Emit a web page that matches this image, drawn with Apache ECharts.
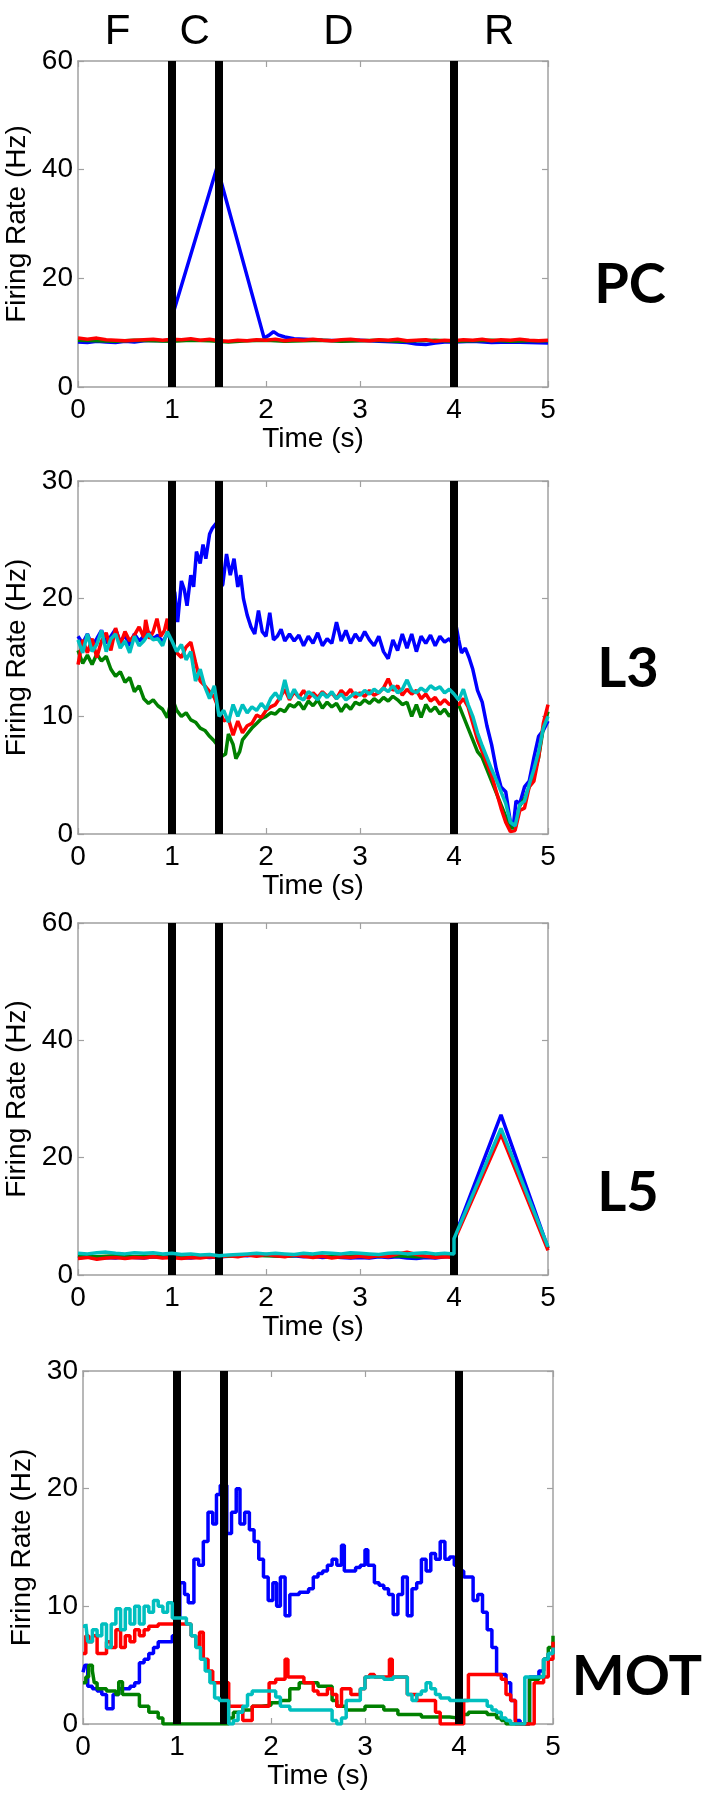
<!DOCTYPE html>
<html>
<head>
<meta charset="utf-8">
<script src="https://cdn.jsdelivr.net/npm/echarts@6/dist/echarts.min.js"></script>
<style>
html,body{margin:0;padding:0;background:#fff;}
#c{width:709px;height:1799px;}
</style>
</head>
<body>
<div id="c"></div>
<script>
// ---------- data (time in s, rate in Hz) ----------
const xTicks = [0, 1, 2, 3, 4, 5];
const phaseLabels = ['F', 'C', 'D', 'R'];
const phaseLabelTimes = [0.42, 1.24, 2.77, 4.48];
const eventTimes = [1, 1.5, 4];
const panelNames = ['PC', 'L3', 'L5', 'MOT'];
const panelYMax = [60, 30, 60, 30];

const pcBlue = [[0,8.3],[0.1,8.2],[0.2,8.4],[0.3,8.3],[0.4,8.2],[0.5,8.4],[0.6,8.3],[0.7,8.5],[0.8,8.6],[0.9,8.5],[1.0,8.6],[1.0,12.9],[1.48,40.5],[1.98,9.0],[2.03,9.5],[2.08,10.2],[2.13,9.6],[2.2,9.2],[2.3,8.9],[2.4,8.8],[2.5,8.7],[2.6,8.6],[2.8,8.5],[3.0,8.6],[3.2,8.4],[3.4,8.3],[3.5,8.2],[3.6,7.9],[3.7,7.8],[3.8,8.1],[3.9,8.3],[4.0,8.3],[4.2,8.4],[4.4,8.2],[4.6,8.3],[4.8,8.2],[5.0,8.1]];
const pcGreen = [[0,8.6],[0.2,8.5],[0.4,8.4],[0.6,8.6],[0.8,8.5],[1.0,8.4],[1.2,8.6],[1.4,8.5],[1.6,8.3],[1.8,8.5],[2.0,8.6],[2.2,8.4],[2.4,8.5],[2.6,8.6],[2.8,8.4],[3.0,8.5],[3.2,8.6],[3.4,8.4],[3.6,8.5],[3.8,8.6],[4.0,8.4],[4.2,8.5],[4.4,8.6],[4.6,8.4],[4.8,8.5],[5.0,8.5]];
const pcRed = [[0,9.0],[0.1,8.8],[0.2,9.0],[0.3,8.7],[0.4,8.6],[0.5,8.5],[0.6,8.6],[0.7,8.7],[0.8,8.8],[0.9,8.6],[1.0,8.8],[1.1,8.7],[1.2,8.9],[1.3,8.6],[1.4,8.8],[1.5,8.5],[1.6,8.4],[1.7,8.6],[1.8,8.5],[1.9,8.7],[2.0,8.6],[2.1,8.8],[2.2,8.5],[2.3,8.7],[2.4,8.6],[2.5,8.8],[2.6,8.6],[2.7,8.5],[2.8,8.7],[2.9,8.8],[3.0,8.6],[3.1,8.5],[3.2,8.7],[3.3,8.6],[3.4,8.8],[3.5,8.5],[3.6,8.6],[3.7,8.7],[3.8,8.4],[3.9,8.6],[4.0,8.5],[4.1,8.7],[4.2,8.6],[4.3,8.8],[4.4,8.5],[4.5,8.7],[4.6,8.6],[4.7,8.8],[4.8,8.6],[4.9,8.5],[5.0,8.6]];

const l3Blue = [[0,16.8],[0.05,16.2],[0.1,17.0],[0.15,16.0],[0.2,16.6],[0.25,17.3],[0.3,16.2],[0.35,16.8],[0.4,17.4],[0.45,16.3],[0.5,16.9],[0.55,16.0],[0.6,17.0],[0.65,16.4],[0.7,16.8],[0.75,17.2],[0.8,16.6],[0.85,16.9],[0.9,16.3],[0.95,17.0],[1.0,16.5],[1.0,21.2],[1.03,20.5],[1.06,18.0],[1.1,21.5],[1.13,20.8],[1.16,19.4],[1.2,22.0],[1.23,21.0],[1.26,24.0],[1.3,23.0],[1.33,24.6],[1.36,23.4],[1.4,25.5],[1.43,26.0],[1.47,26.4],[1.5,25.8],[1.5,20.8],[1.54,21.2],[1.58,23.8],[1.62,22.0],[1.66,23.4],[1.7,21.0],[1.73,22.0],[1.76,20.0],[1.8,18.6],[1.84,17.6],[1.88,17.0],[1.92,19.0],[1.96,17.2],[2.0,16.8],[2.04,18.8],[2.08,16.5],[2.12,16.8],[2.16,17.4],[2.2,16.4],[2.25,17.0],[2.3,16.4],[2.35,16.9],[2.4,16.0],[2.45,16.8],[2.5,16.2],[2.55,17.1],[2.6,16.0],[2.65,16.6],[2.7,16.2],[2.75,18.0],[2.8,16.4],[2.85,17.3],[2.9,16.2],[2.95,17.0],[3.0,16.4],[3.05,17.2],[3.1,16.5],[3.15,16.0],[3.2,16.8],[3.25,15.5],[3.3,14.9],[3.35,16.5],[3.4,15.6],[3.45,17.0],[3.5,15.8],[3.55,17.0],[3.6,15.5],[3.65,16.8],[3.7,16.2],[3.75,16.9],[3.8,16.0],[3.85,16.8],[3.9,16.3],[3.95,16.6],[4.0,16.0],[4.02,17.8],[4.05,16.5],[4.08,15.4],[4.12,15.8],[4.16,15.0],[4.2,14.0],[4.25,12.2],[4.3,11.2],[4.35,9.2],[4.4,7.6],[4.45,5.5],[4.5,4.0],[4.55,3.6],[4.6,1.0],[4.63,0.6],[4.66,2.8],[4.7,2.6],[4.75,4.0],[4.8,4.5],[4.85,6.5],[4.9,8.3],[4.95,8.8],[5.0,9.6]];
const l3Green = [[0,15.6],[0.05,14.5],[0.1,15.2],[0.15,14.4],[0.2,15.3],[0.25,14.7],[0.3,15.1],[0.35,14.0],[0.4,13.4],[0.45,13.8],[0.5,12.9],[0.55,13.3],[0.6,12.1],[0.65,12.6],[0.7,11.5],[0.75,11.1],[0.8,11.4],[0.85,10.9],[0.9,10.6],[0.95,9.9],[1.0,11.6],[1.05,10.5],[1.1,10.0],[1.15,10.3],[1.2,9.7],[1.25,9.5],[1.3,9.0],[1.35,8.8],[1.4,8.3],[1.45,7.9],[1.5,7.4],[1.53,6.6],[1.57,6.8],[1.6,8.5],[1.65,7.6],[1.68,6.4],[1.72,7.0],[1.75,8.0],[1.8,8.5],[1.85,9.0],[1.9,9.4],[1.95,9.8],[2.0,10.0],[2.05,10.3],[2.1,10.2],[2.15,10.6],[2.2,10.4],[2.25,11.0],[2.3,10.8],[2.35,11.2],[2.4,10.6],[2.45,11.3],[2.5,10.9],[2.55,11.4],[2.6,10.7],[2.65,11.2],[2.7,10.8],[2.75,11.1],[2.8,10.4],[2.85,11.0],[2.9,10.6],[2.95,11.2],[3.0,11.0],[3.05,11.4],[3.1,11.1],[3.15,11.5],[3.2,11.2],[3.25,11.6],[3.3,11.3],[3.35,11.7],[3.4,11.4],[3.45,11.0],[3.5,11.2],[3.55,10.0],[3.6,11.0],[3.65,9.9],[3.7,11.0],[3.75,10.4],[3.8,10.8],[3.85,10.2],[3.9,10.6],[3.95,10.0],[4.0,10.5],[4.05,11.0],[4.1,10.0],[4.15,9.0],[4.2,8.0],[4.25,7.0],[4.3,6.5],[4.35,5.5],[4.4,4.5],[4.45,3.5],[4.5,2.5],[4.55,1.5],[4.6,0.5],[4.65,0.5],[4.7,2.4],[4.75,3.0],[4.8,4.0],[4.85,5.0],[4.9,6.5],[4.95,9.0],[5.0,10.4]];
const l3Red = [[0,14.4],[0.05,16.5],[0.1,15.4],[0.15,16.6],[0.2,15.0],[0.25,16.4],[0.3,17.1],[0.35,15.6],[0.4,17.5],[0.45,16.1],[0.5,17.2],[0.55,16.4],[0.6,16.9],[0.65,17.6],[0.7,16.7],[0.72,18.2],[0.76,16.6],[0.8,17.2],[0.84,18.3],[0.88,16.8],[0.92,17.3],[0.95,18.3],[0.98,16.4],[1.0,16.2],[1.05,15.4],[1.1,15.0],[1.15,15.9],[1.2,16.3],[1.25,14.6],[1.3,13.0],[1.35,12.6],[1.4,12.1],[1.45,11.6],[1.5,10.6],[1.55,9.6],[1.6,9.8],[1.65,8.4],[1.7,9.6],[1.75,8.6],[1.8,9.2],[1.85,9.4],[1.9,10.1],[1.95,9.9],[2.0,10.5],[2.05,10.8],[2.1,11.0],[2.15,11.6],[2.2,12.3],[2.25,11.4],[2.3,12.1],[2.35,11.6],[2.4,12.2],[2.45,11.5],[2.5,12.0],[2.55,11.6],[2.6,12.1],[2.65,11.7],[2.7,12.0],[2.75,11.5],[2.8,12.2],[2.85,11.8],[2.9,12.3],[2.95,11.6],[3.0,12.0],[3.05,11.7],[3.1,12.2],[3.15,11.8],[3.2,12.0],[3.25,12.4],[3.3,13.2],[3.35,12.2],[3.4,12.6],[3.45,11.8],[3.5,12.3],[3.55,11.9],[3.6,12.2],[3.65,11.5],[3.7,11.9],[3.75,11.3],[3.8,11.6],[3.85,11.0],[3.9,11.4],[3.95,11.0],[4.0,11.2],[4.05,11.0],[4.1,11.5],[4.15,10.8],[4.2,9.4],[4.25,8.0],[4.3,7.0],[4.35,6.0],[4.4,5.0],[4.45,3.6],[4.5,2.2],[4.55,1.0],[4.6,0.2],[4.65,0.3],[4.7,2.0],[4.75,2.2],[4.8,4.0],[4.85,4.5],[4.9,6.5],[4.95,9.4],[5.0,11.0]];
const l3Cyan = [[0,16.5],[0.05,15.4],[0.1,17.0],[0.15,15.5],[0.2,16.1],[0.25,17.3],[0.3,15.5],[0.35,16.6],[0.4,17.0],[0.45,15.8],[0.5,16.4],[0.55,15.4],[0.6,16.8],[0.65,16.0],[0.7,16.4],[0.75,17.0],[0.8,16.5],[0.85,16.6],[0.9,16.0],[0.95,17.2],[1.0,16.4],[1.05,15.5],[1.1,16.1],[1.15,14.8],[1.2,15.5],[1.25,13.0],[1.3,14.0],[1.35,12.5],[1.4,11.5],[1.45,12.6],[1.5,10.0],[1.55,10.5],[1.6,9.5],[1.65,11.0],[1.7,10.0],[1.75,11.0],[1.8,10.3],[1.85,10.8],[1.9,10.5],[1.95,11.1],[2.0,10.6],[2.05,11.5],[2.1,12.0],[2.15,11.4],[2.2,13.1],[2.25,11.5],[2.3,12.3],[2.35,11.6],[2.4,11.4],[2.45,12.1],[2.5,11.8],[2.55,11.4],[2.6,12.0],[2.65,11.6],[2.7,12.1],[2.75,11.5],[2.8,11.9],[2.85,11.4],[2.9,11.7],[2.95,12.0],[3.0,11.8],[3.05,12.2],[3.1,11.9],[3.15,12.3],[3.2,12.0],[3.25,12.4],[3.3,12.1],[3.35,12.6],[3.4,12.0],[3.45,12.3],[3.5,13.1],[3.55,12.2],[3.6,12.0],[3.65,12.4],[3.7,12.1],[3.75,12.6],[3.8,12.3],[3.85,12.5],[3.9,12.0],[3.95,12.3],[4.0,11.9],[4.05,11.4],[4.1,12.3],[4.15,11.0],[4.2,10.0],[4.25,8.6],[4.3,7.5],[4.35,6.5],[4.4,5.5],[4.45,4.6],[4.5,3.6],[4.55,2.6],[4.6,1.0],[4.65,0.7],[4.7,2.5],[4.75,2.8],[4.8,4.2],[4.85,5.5],[4.9,7.0],[4.95,9.0],[5.0,10.0]];

const l5Blue = [[0,2.9],[0.1,3.1],[0.2,2.8],[0.3,3.0],[0.4,2.9],[0.5,3.1],[0.6,3.0],[0.7,2.9],[0.8,3.1],[0.9,3.0],[1.0,3.2],[1.1,3.0],[1.2,2.9],[1.3,3.1],[1.4,3.0],[1.5,3.1],[1.6,3.2],[1.7,3.4],[1.8,3.3],[1.9,3.5],[2.0,3.4],[2.1,3.3],[2.2,3.2],[2.3,3.3],[2.4,3.1],[2.5,3.2],[2.6,3.0],[2.7,3.1],[2.8,3.0],[2.9,2.9],[3.0,3.0],[3.1,2.9],[3.2,3.1],[3.3,3.0],[3.4,3.1],[3.5,2.9],[3.6,2.8],[3.7,3.0],[3.8,2.9],[3.9,3.1],[4.0,3.2],[4.0,6.3],[4.5,27.3],[5.0,4.6]];
const l5Green = [[0,3.2],[0.2,3.1],[0.4,3.3],[0.6,3.1],[0.8,3.2],[1.0,3.0],[1.2,3.1],[1.4,3.3],[1.6,3.2],[1.8,3.4],[2.0,3.3],[2.2,3.2],[2.4,3.4],[2.6,3.2],[2.8,3.1],[3.0,3.3],[3.2,3.2],[3.4,3.3],[3.6,3.1],[3.8,3.2],[4.0,3.2],[4.0,6.0],[4.5,24.5],[5.0,4.5]];
const l5Red = [[0,2.8],[0.1,3.0],[0.2,2.7],[0.3,2.9],[0.4,3.0],[0.5,2.8],[0.6,3.0],[0.7,2.9],[0.8,3.1],[0.9,2.9],[1.0,3.0],[1.1,2.8],[1.2,3.0],[1.3,2.9],[1.4,3.1],[1.5,3.0],[1.6,3.3],[1.7,3.1],[1.8,3.4],[1.9,3.2],[2.0,3.5],[2.1,3.3],[2.2,3.1],[2.3,3.4],[2.4,3.2],[2.5,3.0],[2.6,3.2],[2.7,2.9],[2.8,3.1],[2.9,3.0],[3.0,3.2],[3.1,3.0],[3.2,3.3],[3.3,3.1],[3.4,3.6],[3.5,3.9],[3.6,3.5],[3.7,3.2],[3.8,3.0],[3.9,3.1],[4.0,3.0],[4.0,5.8],[4.5,24.0],[5.0,4.2]];
const l5Cyan = [[0,3.7],[0.1,3.6],[0.2,3.8],[0.3,3.9],[0.4,3.7],[0.5,3.6],[0.6,3.8],[0.7,3.7],[0.8,3.8],[0.9,3.6],[1.0,3.7],[1.1,3.5],[1.2,3.6],[1.3,3.4],[1.4,3.5],[1.5,3.3],[1.6,3.4],[1.7,3.5],[1.8,3.6],[1.9,3.7],[2.0,3.6],[2.1,3.7],[2.2,3.6],[2.3,3.5],[2.4,3.7],[2.5,3.6],[2.6,3.8],[2.7,3.7],[2.8,3.6],[2.9,3.8],[3.0,3.7],[3.1,3.6],[3.2,3.5],[3.3,3.7],[3.4,3.8],[3.5,3.6],[3.6,3.7],[3.7,3.8],[3.8,3.6],[3.9,3.7],[4.0,3.6],[4.0,6.2],[4.5,25.0],[5.0,4.8]];

const motBlue = [[0,4.4],[0.02,5.0],[0.05,3.2],[0.1,3.0],[0.15,2.8],[0.2,2.5],[0.25,1.3],[0.32,2.5],[0.38,3.0],[0.45,3.0],[0.5,3.2],[0.55,3.5],[0.6,5.2],[0.65,5.5],[0.7,6.0],[0.75,6.5],[0.8,7.0],[0.95,7.5],[1.0,9.0],[1.03,12.0],[1.08,11.0],[1.12,10.3],[1.18,14.0],[1.23,13.5],[1.28,15.5],[1.33,18.0],[1.38,17.0],[1.42,19.5],[1.46,20.3],[1.5,20.3],[1.53,16.2],[1.58,18.0],[1.63,20.0],[1.67,17.0],[1.72,18.0],[1.77,16.5],[1.82,15.5],[1.87,14.0],[1.92,12.5],[1.97,10.5],[2.02,12.0],[2.06,10.0],[2.1,12.5],[2.15,9.2],[2.2,11.0],[2.3,11.2],[2.4,11.5],[2.45,12.5],[2.5,12.8],[2.55,13.0],[2.6,13.5],[2.65,14.0],[2.7,13.5],[2.75,15.2],[2.78,13.0],[2.85,13.0],[2.9,13.3],[2.95,13.5],[3.0,14.8],[3.03,13.5],[3.1,12.0],[3.15,11.8],[3.2,11.5],[3.25,11.0],[3.3,9.3],[3.35,11.0],[3.4,12.5],[3.45,9.2],[3.5,11.5],[3.55,12.0],[3.6,14.0],[3.65,13.0],[3.7,14.5],[3.75,14.0],[3.8,15.5],[3.85,14.0],[3.9,14.2],[3.95,13.5],[4.0,13.0],[4.05,12.5],[4.15,10.5],[4.2,11.0],[4.25,9.5],[4.3,8.0],[4.35,6.5],[4.4,4.2],[4.5,3.5],[4.55,2.0],[4.6,0.3],[4.65,0.0],[4.75,4.0],[4.85,4.5],[4.9,5.5],[4.95,6.0],[5.0,6.5]];
const motGreen = [[0,3.5],[0.03,4.0],[0.06,5.0],[0.1,4.5],[0.12,3.5],[0.15,3.0],[0.25,2.8],[0.35,2.5],[0.38,3.6],[0.42,2.5],[0.6,1.5],[0.7,1.0],[0.8,0.5],[0.85,0.0],[1.55,0.5],[1.6,1.0],[1.7,1.2],[1.8,1.5],[1.9,1.6],[2.0,1.8],[2.1,2.0],[2.2,3.0],[2.3,3.5],[2.5,3.2],[2.65,2.0],[2.7,1.5],[2.8,1.2],[3.0,1.5],[3.2,1.2],[3.35,0.8],[3.6,0.6],[3.9,0.5],[4.0,0.8],[4.1,1.0],[4.3,0.8],[4.4,0.5],[4.45,0.3],[4.5,0.0],[4.75,3.8],[4.85,4.0],[4.9,5.5],[4.95,6.5],[5.0,7.5]];
const motRed = [[0,6.0],[0.03,7.5],[0.06,7.0],[0.1,7.5],[0.15,6.0],[0.2,6.0],[0.25,7.0],[0.3,6.5],[0.35,8.0],[0.4,6.5],[0.45,7.5],[0.5,7.0],[0.55,8.0],[0.6,7.5],[0.65,8.0],[0.7,8.3],[0.8,8.5],[1.1,8.5],[1.15,7.5],[1.2,6.6],[1.24,7.8],[1.28,5.5],[1.33,4.5],[1.38,3.5],[1.55,1.5],[1.7,0.3],[1.8,1.5],[1.98,3.5],[2.05,3.8],[2.15,5.5],[2.18,4.0],[2.35,3.5],[2.45,2.8],[2.5,2.5],[2.6,3.0],[2.65,2.5],[2.7,1.5],[2.75,3.0],[2.85,2.5],[2.95,3.0],[3.0,4.0],[3.05,4.2],[3.1,4.0],[3.26,5.5],[3.29,4.0],[3.45,2.5],[3.55,2.0],[3.75,1.0],[3.8,0.0],[4.05,2.0],[4.1,4.2],[4.45,3.8],[4.5,2.5],[4.55,2.0],[4.6,0.0],[4.8,3.5],[4.9,4.0],[4.95,5.5],[5.0,7.0]];
const motCyan = [[0,8.3],[0.03,8.5],[0.05,7.0],[0.1,8.0],[0.15,7.5],[0.2,8.5],[0.25,6.5],[0.3,8.5],[0.35,9.8],[0.4,8.0],[0.45,9.8],[0.5,8.5],[0.55,10.0],[0.6,8.5],[0.65,10.0],[0.7,9.5],[0.75,10.5],[0.8,10.0],[0.85,9.5],[0.9,10.3],[0.95,9.0],[1.1,8.5],[1.15,7.5],[1.2,6.5],[1.25,5.5],[1.3,4.5],[1.35,3.5],[1.4,2.2],[1.45,2.0],[1.55,0.0],[1.6,0.3],[1.65,1.0],[1.7,1.5],[1.75,2.5],[1.8,2.8],[2.05,2.3],[2.1,1.5],[2.2,1.2],[2.65,0.3],[2.7,0.0],[2.75,0.5],[2.8,2.0],[2.95,3.0],[3.0,4.0],[3.2,3.8],[3.3,4.0],[3.45,2.5],[3.5,2.0],[3.55,2.5],[3.6,2.8],[3.65,3.5],[3.7,3.0],[3.75,2.5],[3.8,2.2],[3.9,2.0],[4.3,1.5],[4.35,1.2],[4.4,1.0],[4.45,0.5],[4.5,0.3],[4.55,0.0],[4.7,4.0],[4.9,5.5],[4.95,6.0],[5.0,6.5]];

const panelSeries = [
  [pcBlue, pcGreen, pcRed],
  [l3Blue, l3Green, l3Red, l3Cyan],
  [l5Blue, l5Green, l5Red, l5Cyan],
  [motBlue, motGreen, motRed, motCyan]
];

// ---------- layout / style ----------
const lineColors = ['#0000ff', '#008000', '#ff0000', '#00bfbf'];
const panelStep = [false, false, false, 'end'];
const gridBoxes = [
  {left: 78, top: 61, width: 470, height: 326},
  {left: 78, top: 481, width: 470, height: 353},
  {left: 78, top: 923, width: 470, height: 352},
  {left: 83, top: 1371, width: 470, height: 353}
];
const nameCenters = [[630, 285], [628, 669], [628, 1193], [637, 1677]];
const FONT = 'Liberation Sans, Arial, Helvetica, sans-serif';
const axisGray = '#a0a0a0';

const grid = [], xAxis = [], yAxis = [], series = [], graphic = [];

gridBoxes.forEach((g, i) => {
  grid.push(Object.assign({containLabel: false, outerBoundsMode: 'none'}, g));
  const common = {
    type: 'value', gridIndex: i, min: 0, splitLine: {show: false},
    axisLine: {show: true, onZero: false, lineStyle: {color: axisGray, width: 1.5}},
    axisTick: {show: true, inside: true, length: 6, lineStyle: {color: axisGray, width: 1.2}}
  };
  xAxis.push(Object.assign({}, common, {
    position: 'bottom', max: 5, interval: 1,
    axisLabel: {show: true, fontSize: 28, color: '#000', margin: 9, fontFamily: FONT},
    name: 'Time (s)', nameLocation: 'middle', nameGap: 37,
    nameTextStyle: {fontSize: 28, color: '#000', fontFamily: FONT}
  }));
  xAxis.push(Object.assign({}, common, {
    position: 'top', max: 5, interval: 1, axisLabel: {show: false}
  }));
  const ym = panelYMax[i];
  yAxis.push(Object.assign({}, common, {
    position: 'left', max: ym, interval: ym / 3,
    axisLabel: {show: true, fontSize: 28, color: '#000', margin: 5, fontFamily: FONT},
    name: 'Firing Rate (Hz)', nameLocation: 'middle', nameGap: 45,
    nameTextStyle: {fontSize: 28, color: '#000', fontFamily: FONT}
  }));
  yAxis.push(Object.assign({}, common, {
    position: 'right', max: ym, interval: ym / 3, axisLabel: {show: false}
  }));

  const list = panelSeries[i];
  list.forEach((d, k) => {
    const s = {
      type: 'line', xAxisIndex: 2 * i, yAxisIndex: 2 * i,
      data: d, showSymbol: false, symbol: 'none', silent: true,
      step: panelStep[i], animation: false,
      lineStyle: {color: lineColors[k], width: 3.5}, z: 2 + k
    };
    if (k === list.length - 1) {
      s.markLine = {
        silent: true, symbol: ['none', 'none'], animation: false,
        label: {show: false},
        lineStyle: {color: '#000', width: 8, type: 'solid'},
        emphasis: {disabled: true},
        data: eventTimes.map(t => ({xAxis: t}))
      };
    }
    series.push(s);
  });

  graphic.push({
    type: 'text', silent: true,
    style: {
      text: panelNames[i], x: nameCenters[i][0], y: nameCenters[i][1],
      align: 'center', verticalAlign: 'middle',
      font: 'bold 56px Lato, "Noto Sans", sans-serif', fill: '#000'
    }
  });
});

// phase labels above first panel (positioned from time values)
const x0 = gridBoxes[0].left, pxPerSec = gridBoxes[0].width / 5;
phaseLabels.forEach((lab, j) => {
  graphic.push({
    type: 'text', silent: true,
    style: {
      text: lab, x: x0 + phaseLabelTimes[j] * pxPerSec, y: 32,
      align: 'center', verticalAlign: 'middle',
      font: '42px "Liberation Sans", Arial, sans-serif', fill: '#000'
    }
  });
});

const chart = echarts.init(document.getElementById('c'), null, {renderer: 'canvas'});
chart.setOption({
  animation: false,
  backgroundColor: '#fff',
  grid, xAxis, yAxis, series, graphic
});
</script>
</body>
</html>
